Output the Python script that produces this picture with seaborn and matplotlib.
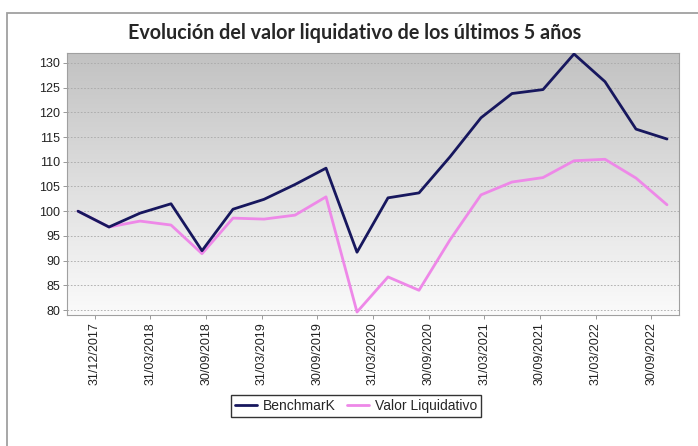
import numpy as np
import pandas as pd
import matplotlib
matplotlib.use("Agg")
import matplotlib.pyplot as plt
from matplotlib.patches import Rectangle
import seaborn as sns

# data
fechas = ["31/12/2017", "31/03/2018", "30/09/2018", "31/03/2019", "30/09/2019",
          "31/03/2020", "30/09/2020", "31/03/2021", "30/09/2021", "31/03/2022",
          "30/09/2022"]
benchmark = [100.0, 96.8, 99.6, 101.5, 92.0, 100.4, 102.4, 105.4, 108.7, 91.7,
             102.7, 103.7, 111.0, 118.9, 123.8, 124.6, 131.8, 126.2, 116.6, 114.6]
valor_liq = [100.0, 96.8, 98.0, 97.2, 91.4, 98.6, 98.4, 99.2, 102.9, 79.6,
             86.7, 84.0, 94.2, 103.3, 105.9, 106.8, 110.2, 110.5, 106.7, 101.3]
series = ["BenchmarK", "Valor Liquidativo"]
colores = ["#17175e", "#ee88e8"]
y_ticks = list(range(80, 131, 5))

df = pd.DataFrame({
    "punto": list(range(len(benchmark))) * 2,
    "valor": benchmark + valor_liq,
    "serie": [series[0]] * len(benchmark) + [series[1]] * len(valor_liq),
})

sns.set_theme(style="white")
plt.rcParams["font.family"] = ["Liberation Sans", "DejaVu Sans"]

W, H = 698, 446
fig = plt.figure(figsize=(W / 100, H / 100), dpi=100)

# outer frame
fig.patches.append(Rectangle((7 / W, -0.05), 1.2, 1.05 - 13 / H, transform=fig.transFigure,
                             fill=False, edgecolor="#a0a0a0", linewidth=1.3))

left, right, top, bottom = 67, 679, 53, 315
ax = fig.add_axes([left / W, 1 - bottom / H, (right - left) / W, (bottom - top) / H])

ylo, yhi = 79.0, 132.0
ax.set_ylim(ylo, yhi)
ax.set_xlim(-0.5, len(fechas) - 0.5)

# gradient background, grey at the top fading to white
grad = np.linspace(0, 1, 256).reshape(-1, 1)
cmap = matplotlib.colors.LinearSegmentedColormap.from_list("bg", ["#c2c2c2", "#fbfbfb"])
ax.imshow(grad, aspect="auto", cmap=cmap, extent=[-0.5, len(fechas) - 0.5, ylo, yhi],
          zorder=0, origin="upper")

ax.set_yticks(y_ticks)
ax.set_yticklabels([str(v) for v in y_ticks], fontsize=9, color="#222222")
ax.set_xticks(range(len(fechas)))
ax.set_xticklabels(fechas, rotation=90, fontsize=9, color="#222222")
for v in y_ticks:
    ax.axhline(v, color="#a8a8a8", linewidth=0.6, linestyle=(0, (2, 2)), zorder=1)
ax.tick_params(axis="both", direction="out", length=3, width=0.6, color="#888888", pad=2)
ax.tick_params(axis="y", left=True)
ax.tick_params(axis="x", bottom=True)
for sp in ax.spines.values():
    sp.set_color("#a0a0a0")
    sp.set_linewidth(0.8)

# lines on a twin x axis
ax2 = ax.twiny()
sns.lineplot(data=df, x="punto", y="valor", hue="serie", hue_order=series[::-1],
             palette=colores[::-1], linewidth=2.0, ax=ax2, legend=False)
ax2.set_xlim(-0.355, len(benchmark) - 1 + 0.387)
ax2.set_ylim(ylo, yhi)
ax2.set_xticks([])
ax2.set_xlabel("")
ax2.set_ylabel("")
for sp in ax2.spines.values():
    sp.set_visible(False)

fig.text(355 / W, 1 - 33 / H, "Evolución del valor liquidativo de los últimos 5 años",
         ha="center", va="center", fontsize=14.2, fontweight="bold", family=["Lato", "DejaVu Sans"])

handles = [plt.Line2D([], [], color=c, linewidth=2.0) for c in colores]
leg = fig.legend(handles, series, loc="center", bbox_to_anchor=(356 / W, 1 - 406 / H),
                 ncol=2, frameon=True, fontsize=10, handlelength=1.6, handletextpad=0.4,
                 columnspacing=0.8, borderpad=0.3, fancybox=False)
leg.get_frame().set_edgecolor("black")
leg.get_frame().set_linewidth(1.0)

fig.savefig("out.png", dpi=100)
